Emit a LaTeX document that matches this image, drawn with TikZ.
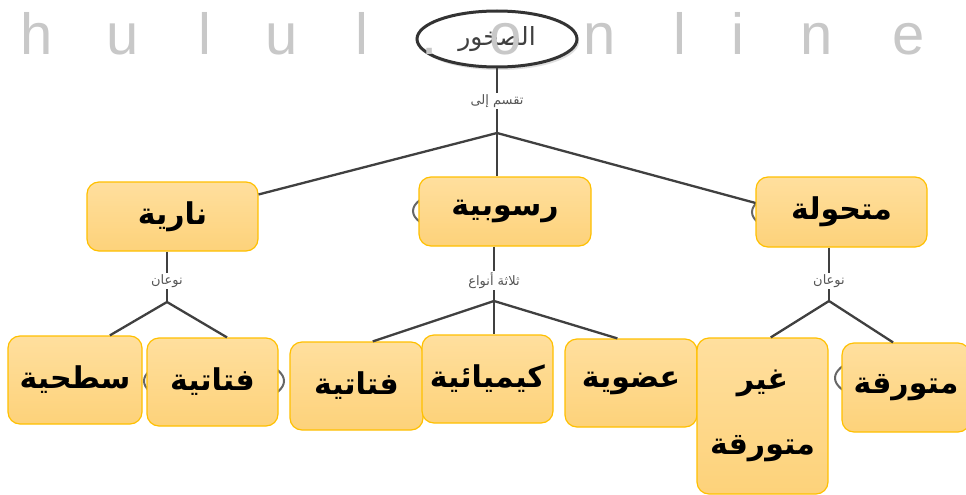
\documentclass[tikz,border=0pt]{standalone}
\usepackage{fontspec}
\usetikzlibrary{shapes.geometric,shadows}
\newfontfamily\arabicfont[Script=Arabic]{DejaVu Sans}
\newfontfamily\wmfont{Liberation Sans}
\TeXXeTstate=1
\newcommand\artxt[1]{{\arabicfont\beginR #1\endR}}
\definecolor{boxtop}{RGB}{255,223,158}
\definecolor{boxbot}{RGB}{253,210,122}
\definecolor{boxborder}{RGB}{255,192,0}
\definecolor{linegray}{RGB}{64,64,64}
\definecolor{wmgray}{RGB}{200,200,200}
\definecolor{lblgray}{RGB}{85,85,85}
\begin{document}
\begin{tikzpicture}[x=1pt,y=-1pt,
  box/.style={draw=boxborder, line width=1.2pt, rounded corners=12pt,
    top color=boxtop, bottom color=boxbot, inner sep=0pt,
    font=\fontsize{30}{32}\selectfont\bfseries, text=black},
  conn/.style={draw=linegray, line width=2.3pt},
  ghost/.style={draw=gray!80!black, line width=2pt},
  lbl/.style={fill=white, inner sep=1.5pt, text=lblgray, font=\fontsize{13}{15}\selectfont},
  wm/.style={anchor=base, inner sep=0pt, text=wmgray, font=\wmfont\fontsize{58}{60}\selectfont}]
\useasboundingbox (0,0) rectangle (966,495);
\fill[white] (0,0) rectangle (966,495);

% partly hidden ellipses behind boxes
\draw[ghost] (500,211) ellipse [x radius=87, y radius=28];
\draw[ghost] (836,212) ellipse [x radius=84, y radius=28];
\draw[ghost] (214,381) ellipse [x radius=70, y radius=26];
\draw[ghost] (905,378) ellipse [x radius=70, y radius=26];

% root
\node[ellipse, draw=linegray!80!black, line width=3pt, fill=white,
  minimum width=160pt, minimum height=56pt, text=linegray,
  font=\fontsize{25}{27}\selectfont,
  drop shadow={opacity=0.25, shadow xshift=2pt, shadow yshift=-3pt}]
  (rocks) at (497,39) {\artxt{الصخور}};

% level 1 boxes
\node[box, minimum width=171pt, minimum height=69pt] (nareya) at (172.5,216.5) {\artxt{نارية}};
\node[box, minimum width=172pt, minimum height=69pt] (rusub) at (505,211.5) {\artxt{رسوبية}};
\node[box, minimum width=171pt, minimum height=70pt] (mutahawila) at (841.5,212) {\artxt{متحولة}};

% level 2 boxes
\node[box, minimum width=134pt, minimum height=88pt] (sat) at (75,380) {\artxt{سطحية}};
\node[box, minimum width=131pt, minimum height=88pt] (fut1) at (212.5,382) {\artxt{فتاتية}};
\node[box, minimum width=133pt, minimum height=88pt] (fut2) at (356.5,386) {\artxt{فتاتية}};
\node[box, minimum width=131pt, minimum height=88pt] (kim) at (487.5,379) {\artxt{كيميائية}};
\node[box, minimum width=132pt, minimum height=88pt] (udw) at (631,383) {\artxt{عضوية}};
\node[box, minimum width=131pt, minimum height=156pt, align=center,
  font=\fontsize{30}{65}\selectfont\bfseries] (ghayr) at (762.5,416) {\artxt{غير}\\\artxt{متورقة}};
\node[box, minimum width=128pt, minimum height=89pt] (mutawarriqa) at (906,387.5) {\artxt{متورقة}};

% junctions
\coordinate (j1) at (497,133);
\coordinate (j2) at (167,302);
\coordinate (j3) at (494,301);
\coordinate (j4) at (829,301);

% connectors
\draw[conn] (rocks.south) -- node[lbl, pos=0.5] {\artxt{تقسم إلى}} (j1);
\draw[conn] (j1) -- (nareya);
\draw[conn] (j1) -- (j1 |- rusub.north);
\draw[conn] (j1) -- (mutahawila.174);

\draw[conn] (nareya.south -| j2) -- node[lbl, pos=0.58] {\artxt{نوعان}} (j2);
\draw[conn] (j2) -- (sat.52);
\draw[conn] (j2) -- (fut1.72);

\draw[conn] (rusub.south -| j3) -- node[lbl, pos=0.62] {\artxt{ثلاثة أنواع}} (j3);
\draw[conn] (j3) -- (fut2.70);
\draw[conn] (j3) -- (j3 |- kim.north);
\draw[conn] (j3) -- (udw.107);

\draw[conn] (mutahawila.south -| j4) -- node[lbl, pos=0.62] {\artxt{نوعان}} (j4);
\draw[conn] (j4) -- (ghayr.84);
\draw[conn] (j4) -- (mutawarriqa.106);

% watermark
\node[wm] (w1) at (37,55) {h};
\node[wm] (w2) at (123,55) {u};
\node[wm] (w3) at (205,55) {l};
\node[wm] (w4) at (282,55) {u};
\node[wm] (w5) at (362,55) {l};
\node[wm] (w6) at (430,55) {.};
\node[wm] (w7) at (506,55) {o};
\node[wm] (w8) at (600,55) {n};
\node[wm] (w9) at (680,55) {l};
\node[wm] (w10) at (738,55) {i};
\node[wm] (w11) at (817,55) {n};
\node[wm] (w12) at (909,55) {e};
\end{tikzpicture}
\end{document}
